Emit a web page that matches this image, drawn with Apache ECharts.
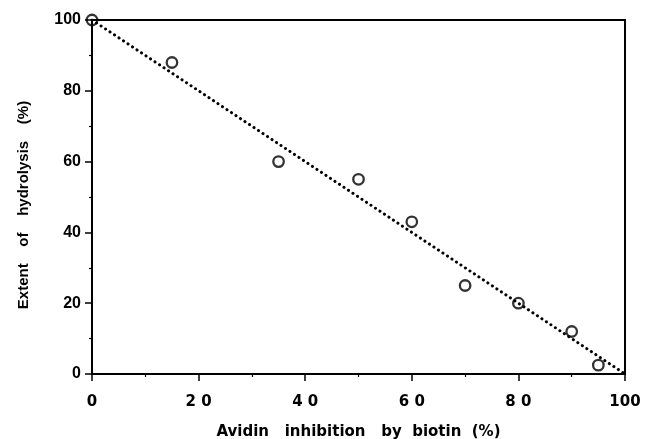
<!DOCTYPE html>
<html><head><meta charset="utf-8">
<script src="https://cdn.jsdelivr.net/npm/echarts@6/dist/echarts.min.js"></script>
<style>html,body{margin:0;padding:0;background:#fff}#c{width:646px;height:439px}</style>
</head><body><div id="c"></div>
<script>
var inhibition = [0, 15, 35, 50, 60, 70, 80, 90, 95];
var hydrolysis = [100, 88, 60, 55, 43, 25, 20, 12, 2.5];
var fitX = [0, 100];
var fitY = [100, 0];
var xTickLabels = {0:'0', 20:'2 0', 40:'4 0', 60:'6 0', 80:'8 0', 100:'100'};
var yTickLabels = {0:'0', 20:'20', 40:'40', 60:'60', 80:'80', 100:'100'};

var pts = inhibition.map(function(x,i){return [x, hydrolysis[i]];});
var fit = fitX.map(function(x,i){return [x, fitY[i]];});
var fontA = "'Liberation Sans', Arial, sans-serif";
var fontD = "'DejaVu Sans', sans-serif";
var chart = echarts.init(document.getElementById('c'));
chart.setOption({
  animation:false,
  grid:{left:92,right:21,top:20,bottom:65,containLabel:false,outerBoundsMode:'none',
    show:true,borderColor:'#000',borderWidth:2,backgroundColor:'transparent'},
  xAxis:{type:'value',min:0,max:100,interval:20,
    name:'Avidin   inhibition   by  biotin  (%)',nameLocation:'middle',nameGap:51,
    nameTextStyle:{fontFamily:fontD,fontWeight:'bold',fontSize:15,color:'#000'},
    axisLine:{lineStyle:{color:'#000',width:2}},
    axisTick:{length:7,lineStyle:{color:'#000',width:1.5}},
    minorTick:{show:true,splitNumber:2,length:3,lineStyle:{color:'#000',width:1.2}},
    splitLine:{show:false},
    axisLabel:{margin:21,fontFamily:fontD,fontWeight:'bold',fontSize:15,color:'#000',
      formatter:function(v){return xTickLabels[v];}}},
  yAxis:{type:'value',min:0,max:100,interval:20,
    name:'Extent    of    hydrolysis    (%)',nameLocation:'middle',nameGap:61,
    nameTextStyle:{fontFamily:fontA,fontWeight:'bold',fontSize:15,color:'#000',padding:[0,16,0,0]},
    axisLine:{lineStyle:{color:'#000',width:2}},
    axisTick:{length:7,lineStyle:{color:'#000',width:1.5}},
    minorTick:{show:true,splitNumber:2,length:3,lineStyle:{color:'#000',width:1.2}},
    splitLine:{show:false},
    axisLabel:{margin:11,fontFamily:fontA,fontWeight:'bold',fontSize:16,color:'#000',
      formatter:function(v){return yTickLabels[v];}}},
  series:[
    {type:'line',data:fit,symbol:'none',z:1,
      lineStyle:{color:'#000',width:3,type:[0.1,5.3],cap:'round'}},
    {type:'scatter',data:pts,symbol:'circle',symbolSize:10.5,z:3,
      itemStyle:{color:'transparent',borderColor:'#000',borderWidth:2.3}}
  ]
});
</script></body></html>
